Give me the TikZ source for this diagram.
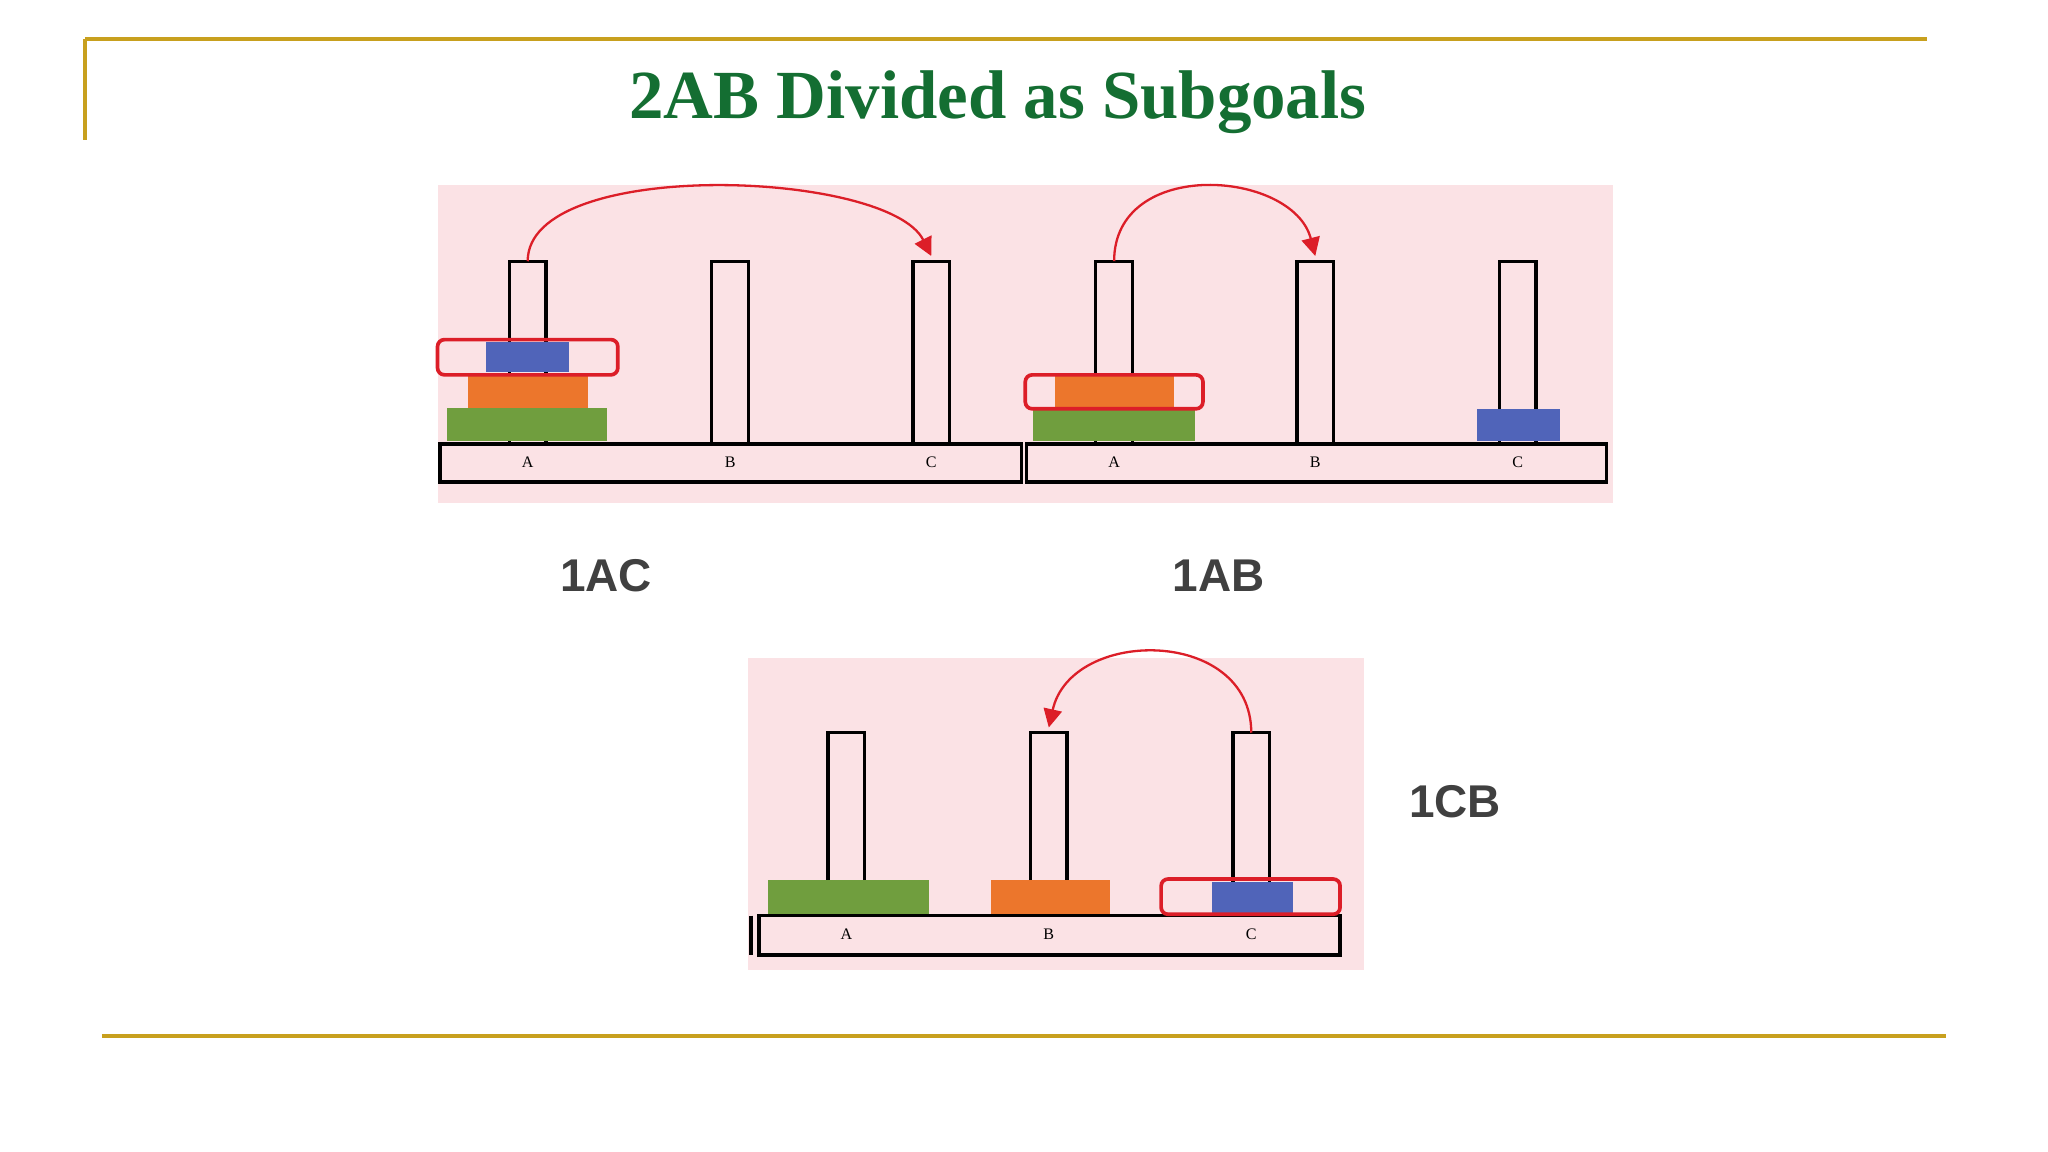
\documentclass[tikz,border=0pt]{standalone}
\usepackage{fontspec}
\setmainfont{Liberation Serif}
\setsansfont{Liberation Sans}
\usetikzlibrary{arrows.meta}
\definecolor{gold}{RGB}{200,160,30}
\definecolor{tgreen}{RGB}{20,110,50}
\definecolor{pinkbg}{RGB}{251,226,229}
\definecolor{dgreen}{RGB}{112,158,62}
\definecolor{dorange}{RGB}{236,118,44}
\definecolor{dblue}{RGB}{80,100,185}
\definecolor{hred}{RGB}{220,30,40}
\tikzset{
 peg/.style={draw=black,line width=0.7pt,fill=pinkbg},
 basebox/.style={draw=black,line width=0.8pt,fill=pinkbg},
 sel/.style={draw=hred,line width=0.8pt,rounded corners=1.5pt},
 mv/.style={draw=hred,line width=0.5pt,-{Triangle[length=4pt,width=4pt]}},
 lbl/.style={font=\fontsize{3.5}{4}\selectfont},
 step/.style={}, 
 mlab/.style={font=\sffamily\bfseries\fontsize{10}{12}\selectfont,text=black!75}
}
\begin{document}
\begin{tikzpicture}[x=0.01cm,y=-0.01cm]
\useasboundingbox (0,0) rectangle (1568,882);
% frame lines
\draw[gold,line width=0.8pt] (65,30) -- (1475,30);
\draw[gold,line width=0.8pt] (65,30) -- (65,107);
\draw[gold,line width=0.8pt] (78,793) -- (1490,793);
\node[font=\bfseries\fontsize{15}{18}\selectfont,text=tgreen] (title) at (764,78) {2AB Divided as Subgoals};
% panel 1
\fill[pinkbg] (335,142) rectangle (1235,385);
\foreach \x/\n in {404/a1,559/b1,713/c1,853/a2,1007/b2,1162/c2}
  \draw[peg] (\x-14,200) rectangle (\x+14,340) coordinate (\n);
\coordinate (p1) at (404,200); \coordinate (q1) at (713,196);
\coordinate (p2) at (853,200); \coordinate (q2) at (1007,196);
\draw[basebox] (337,340) rectangle (782,369);
\draw[basebox] (786,340) rectangle (1230,369);
\foreach \x/\t in {404/A,559/B,713/C,853/A,1007/B,1162/C}
  \node[lbl] at (\x,354) {\t};
\fill[dgreen] (342,312) rectangle (465,338);
\fill[dorange] (358,287) rectangle (450,312);
\fill[dblue] (372,262) rectangle (436,285);
\draw[sel] (335,260) rectangle (473,287);
\draw[mv] (p1) .. controls (404,120) and (680,130) .. (q1);
\fill[dgreen] (791,314) rectangle (915,338);
\fill[dorange] (808,288) rectangle (899,313);
\draw[sel] (785,287) rectangle (921,313);
\fill[dblue] (1131,313) rectangle (1194,338);
\draw[mv] (p2) .. controls (853,120) and (990,130) .. (q2);
\node[mlab] (l1) at (464,441) {1AC};
\node[mlab] (l2) at (933,441) {1AB};
% panel 3
\fill[pinkbg] (573,504) rectangle (1044,743);
\draw[black,line width=0.8pt] (575,701) -- (575,731);
\foreach \x in {648,803,958}
  \draw[peg] (\x-14,561) rectangle (\x+14,701);
\coordinate (p3) at (958,561); \coordinate (q3) at (803,557);
\draw[basebox] (581,701) rectangle (1026,731);
\foreach \x/\t in {648/A,803/B,958/C}
  \node[lbl] at (\x,715) {\t};
\fill[dgreen] (588,674) rectangle (711,700);
\fill[dorange] (759,674) rectangle (850,700);
\fill[dblue] (928,675) rectangle (990,700);
\draw[sel] (889,673) rectangle (1026,700);
\draw[mv] (p3) .. controls (958,480) and (820,480) .. (q3);
\node[mlab] (l3) at (1114,614) {1CB};
\end{tikzpicture}
\end{document}
